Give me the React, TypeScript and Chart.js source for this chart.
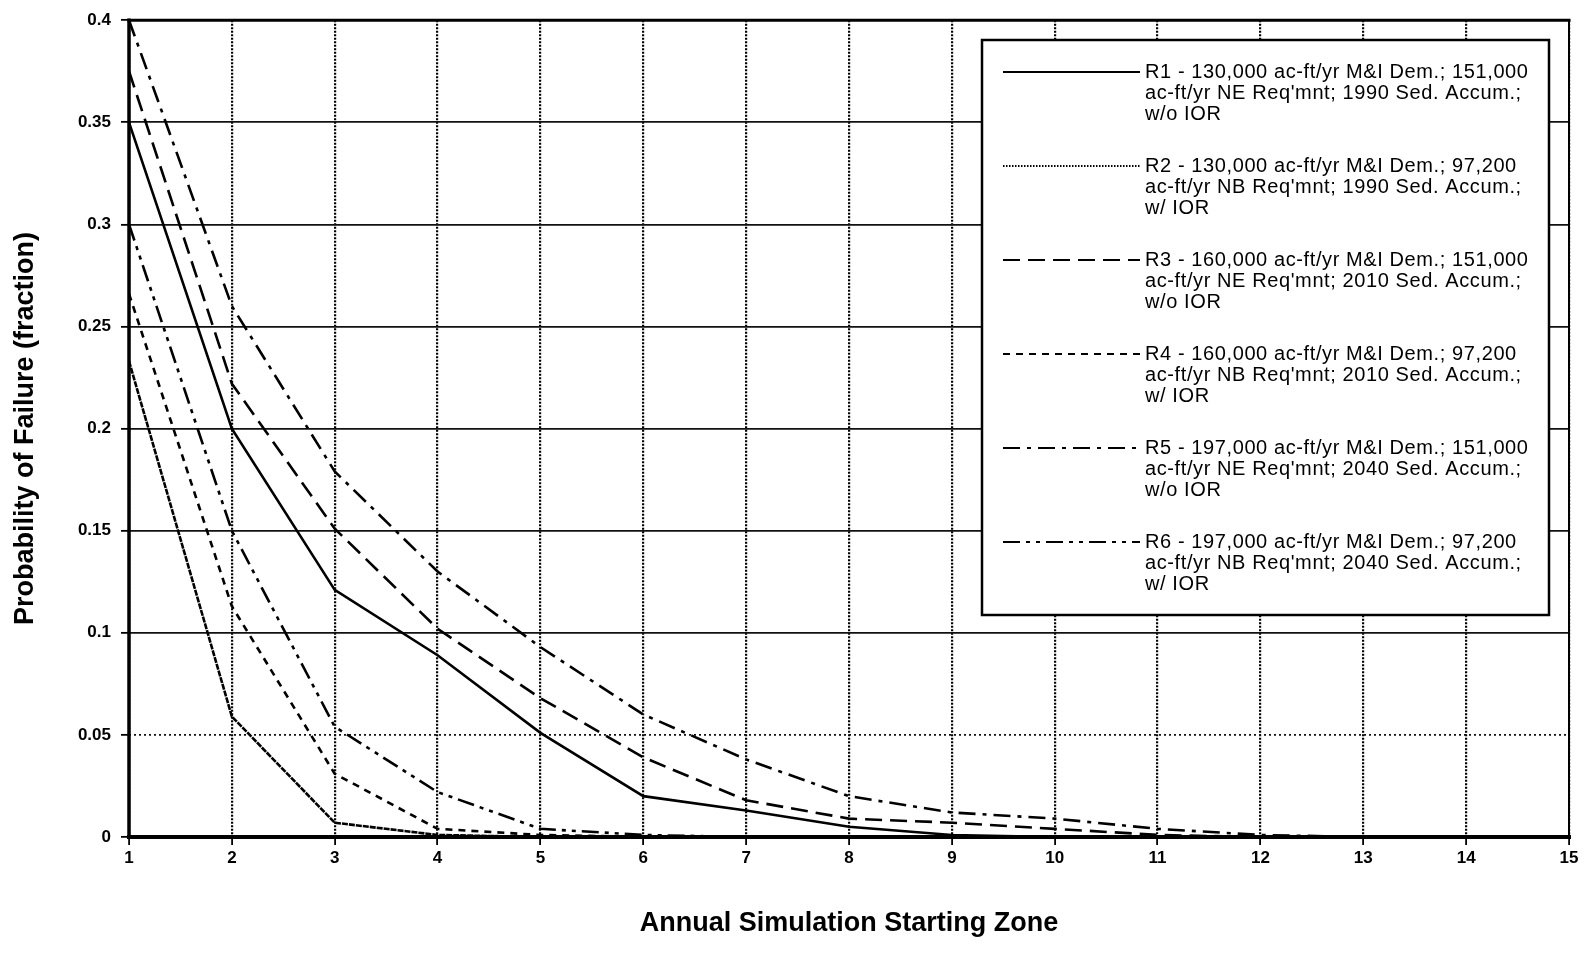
import React, { useEffect, useRef } from "react";
import { Chart, registerables } from "chart.js";

Chart.register(...registerables);

// Starting zones on the horizontal axis
const zones = ["1", "2", "3", "4", "5", "6", "7", "8", "9", "10", "11", "12", "13", "14", "15"];

// Probability of failure (fraction) for each run, zone 1..15
const r1 = [0.35, 0.2, 0.121, 0.089, 0.051, 0.02, 0.013, 0.005, 0.001, 0, 0, 0, 0, 0, 0];
const r2 = [0.233, 0.059, 0.007, 0.001, 0, 0, 0, 0, 0, 0, 0, 0, 0, 0, 0];
const r3 = [0.375, 0.222, 0.151, 0.102, 0.068, 0.039, 0.018, 0.009, 0.007, 0.004, 0.001, 0, 0, 0, 0];
const r4 = [0.266, 0.113, 0.031, 0.004, 0.001, 0, 0, 0, 0, 0, 0, 0, 0, 0, 0];
const r5 = [0.4, 0.26, 0.179, 0.13, 0.093, 0.06, 0.038, 0.02, 0.012, 0.009, 0.004, 0.001, 0, 0, 0];
const r6 = [0.3, 0.15, 0.054, 0.022, 0.004, 0.001, 0, 0, 0, 0, 0, 0, 0, 0, 0];

const runNames = ["R1", "R2", "R3", "R4", "R5", "R6"];
const runValues = [r1, r2, r3, r4, r5, r6];

// Legend text, one entry per run, wrapped as printed
const legendLines = [
  ["R1 - 130,000 ac-ft/yr M&I Dem.; 151,000", "ac-ft/yr NE Req'mnt; 1990 Sed. Accum.;", "w/o IOR"],
  ["R2 - 130,000 ac-ft/yr M&I Dem.; 97,200", "ac-ft/yr NB Req'mnt; 1990 Sed. Accum.;", "w/ IOR"],
  ["R3 - 160,000 ac-ft/yr M&I Dem.; 151,000", "ac-ft/yr NE Req'mnt; 2010 Sed. Accum.;", "w/o IOR"],
  ["R4 - 160,000 ac-ft/yr M&I Dem.; 97,200", "ac-ft/yr NB Req'mnt; 2010 Sed. Accum.;", "w/ IOR"],
  ["R5 - 197,000 ac-ft/yr M&I Dem.; 151,000", "ac-ft/yr NE Req'mnt; 2040 Sed. Accum.;", "w/o IOR"],
  ["R6 - 197,000 ac-ft/yr M&I Dem.; 97,200", "ac-ft/yr NB Req'mnt; 2040 Sed. Accum.;", "w/ IOR"],
];

const xTitle = "Annual Simulation Starting Zone";
const yTitle = "Probability of Failure (fraction)";

// Line dash pattern per run (plot), and the finer pattern for the legend samples
const runDashes = [[], [6, 1], [17, 8], [7, 6], [17, 7, 4, 7], [17, 6, 4, 6, 4, 6]];
const sampleDashes = [[], [1.5, 1.5], [17, 8], [7, 6], [17, 7, 4, 7], [17, 6, 4, 6, 4, 6]];

const tickFont = "'Liberation Sans Narrow', 'Arial Narrow', 'Liberation Sans', Arial, sans-serif";
const titleFont = "'Liberation Sans', Arial, sans-serif";

// Thick frame around the plotting area
const framePlugin = {
  id: "frame",
  afterDatasetsDraw(chart: any) {
    const { ctx, chartArea: a } = chart;
    ctx.save();
    ctx.strokeStyle = "#000";
    ctx.lineCap = "square";
    ctx.setLineDash([]);
    ctx.lineWidth = 3;
    ctx.beginPath();
    ctx.moveTo(a.left, a.top);
    ctx.lineTo(a.right, a.top);
    ctx.stroke();
    ctx.lineWidth = 2;
    ctx.beginPath();
    ctx.moveTo(a.right, a.top);
    ctx.lineTo(a.right, a.bottom);
    ctx.stroke();
    ctx.lineWidth = 3.5;
    ctx.beginPath();
    ctx.moveTo(a.left, a.top);
    ctx.lineTo(a.left, a.bottom);
    ctx.stroke();
    ctx.lineWidth = 4;
    ctx.beginPath();
    ctx.moveTo(a.left, a.bottom);
    ctx.lineTo(a.right, a.bottom);
    ctx.stroke();
    ctx.restore();
  },
};

// Boxed legend with a line sample and wrapped description per run
const legendPlugin = {
  id: "boxLegend",
  afterDraw(chart: any) {
    const { ctx } = chart;
    const box = { left: 982, top: 40, width: 567, height: 575 };
    ctx.save();
    ctx.fillStyle = "#fff";
    ctx.fillRect(box.left, box.top, box.width, box.height);
    ctx.strokeStyle = "#000";
    ctx.lineWidth = 2.5;
    ctx.setLineDash([]);
    ctx.strokeRect(box.left, box.top, box.width, box.height);

    const itemTop = 72;
    const itemStep = 94;
    const lineStep = 21;
    ctx.font = `20px ${titleFont}`;
    ctx.textBaseline = "middle";
    ctx.textAlign = "left";
    ctx.fillStyle = "#000";
    try {
      (ctx as any).letterSpacing = "0.6px";
    } catch (e) {}
    chart.data.datasets.forEach((ds: any, i: number) => {
      const y = itemTop + i * itemStep;
      ctx.save();
      ctx.strokeStyle = "#000";
      ctx.lineWidth = 1.8;
      ctx.setLineDash(sampleDashes[i]);
      ctx.beginPath();
      ctx.moveTo(1003, y);
      ctx.lineTo(1140, y);
      ctx.stroke();
      ctx.restore();
      legendLines[i].forEach((t, j) => {
        ctx.fillText(t, 1145, y + j * lineStep);
      });
    });
    ctx.restore();
  },
};

export default function App() {
  const canvasRef = useRef<HTMLCanvasElement | null>(null);

  useEffect(() => {
    document.body.style.margin = "0";
    const canvas = canvasRef.current;
    if (!canvas) return;

    const datasets = runNames.map((name, i) => ({
      label: name,
      data: runValues[i],
      borderColor: "#000",
      backgroundColor: "#000",
      borderWidth: 2.6,
      borderDash: runDashes[i],
      pointRadius: 0,
      tension: 0,
      fill: false,
    }));

    const chart = new Chart(canvas, {
      type: "line",
      data: { labels: zones, datasets },
      plugins: [framePlugin, legendPlugin],
      options: {
        animation: false,
        responsive: false,
        devicePixelRatio: 1,
        layout: { padding: { left: 0, right: 17, top: 20, bottom: 0 } },
        plugins: {
          legend: { display: false },
          tooltip: { enabled: false },
        },
        scales: {
          x: {
            type: "category",
            offset: false,
            grid: {
              color: "#000",
              lineWidth: 2.2,
              drawTicks: true,
              tickLength: 8,
              tickColor: "#000",
              tickWidth: 1.8,
              offset: false,
            },
            border: { display: false, dash: [2, 1.5] },
            ticks: {
              color: "#000",
              padding: 3,
              maxRotation: 0,
              autoSkip: false,
              font: { family: tickFont, size: 17, weight: "bold" },
            },
            title: {
              display: true,
              text: xTitle,
              color: "#000",
              font: { family: titleFont, size: 27, weight: "bold" },
              padding: { top: 0, bottom: 13 },
            },
            afterFit(scale: any) {
              scale.height = 116;
            },
          },
          y: {
            type: "linear",
            min: 0,
            max: 0.4,
            grid: {
              color: "#111",
              lineWidth: 1.7,
              drawTicks: true,
              tickLength: 8,
              tickColor: "#000",
              tickWidth: 1.8,
            },
            border: {
              display: false,
              dash: (ctx: any) =>
                ctx.tick && Math.abs(ctx.tick.value - 0.05) < 1e-9 ? [2, 3] : [],
            },
            ticks: {
              stepSize: 0.05,
              color: "#000",
              padding: 10,
              font: { family: tickFont, size: 17, weight: "bold" },
              callback: (v: any) => String(+Number(v).toFixed(2)),
            },
            title: {
              display: true,
              text: yTitle,
              color: "#000",
              font: { family: titleFont, size: 27, weight: "bold" },
              padding: { top: 9, bottom: 0 },
            },
            afterFit(scale: any) {
              scale.width = 129;
            },
          },
        },
      },
    } as any);

    return () => chart.destroy();
  }, []);

  return (
    <div style={{ position: "absolute", left: 0, top: 0, width: 1586, height: 953, background: "#fff" }}>
      <canvas ref={canvasRef} width={1586} height={953} style={{ display: "block" }} />
    </div>
  );
}
